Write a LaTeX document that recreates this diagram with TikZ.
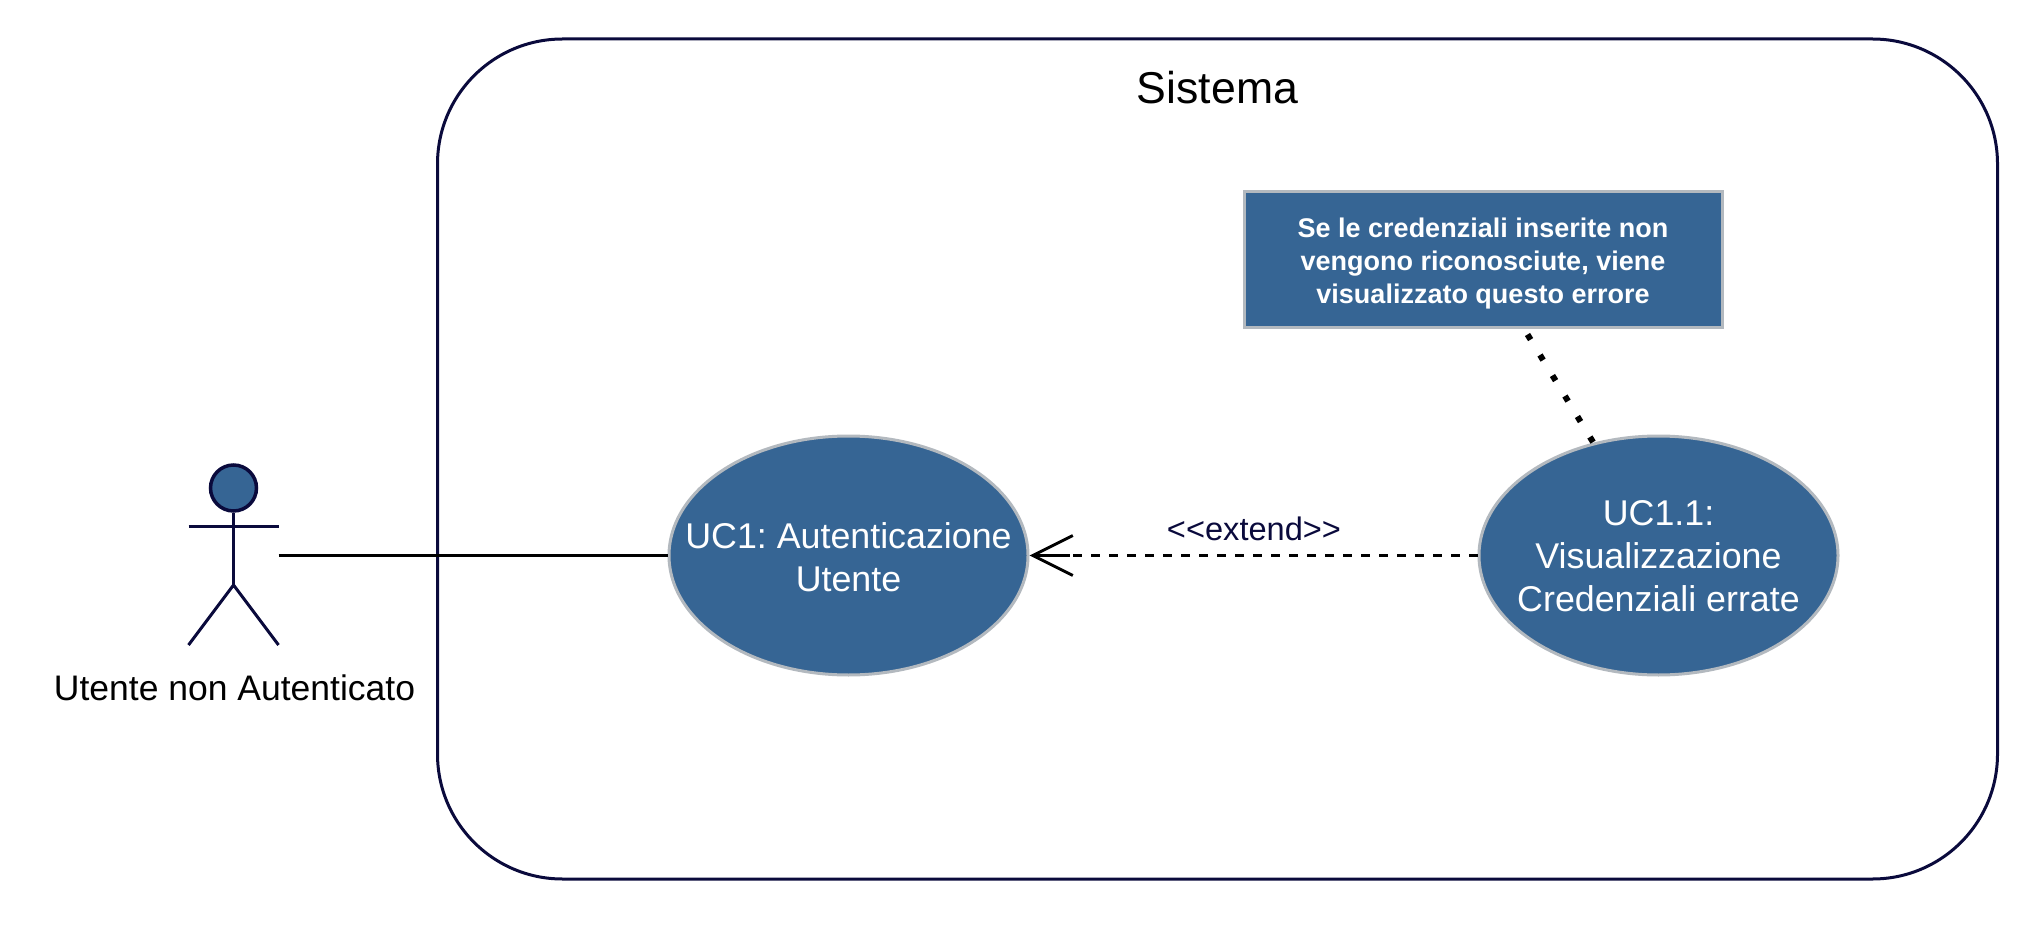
\documentclass[tikz,border=0pt]{standalone}
\usepackage{fontspec}
\setmainfont{Liberation Sans}
\frenchspacing
\usetikzlibrary{shapes.geometric,arrows.meta,calc}
\definecolor{ucblue}{HTML}{366594}
\definecolor{ucgray}{HTML}{B3B9BF}
\definecolor{ucnavy}{HTML}{0A0A3C}
\tikzset{
  usecase/.style={ellipse,draw=ucgray,line width=3pt,fill=ucblue,minimum width=359pt,minimum height=239pt,inner sep=0pt},
  uctext/.style={inner sep=0pt,text=white,align=center,font=\fontsize{35.8}{43}\selectfont},
  notebox/.style={rectangle,draw=ucgray,line width=3pt,fill=ucblue,text=white,minimum width=478pt,minimum height=136pt,inner sep=0pt},
  notetext/.style={inner sep=0pt,text=white,align=center,font=\fontsize{27}{33}\selectfont\bfseries},
  actorline/.style={draw=ucnavy,line width=3pt},
  assoc/.style={draw=black,line width=3pt},
  extendline/.style={draw=black,line width=3pt,dash pattern=on 9pt off 9pt},
  noteline/.style={draw=black,line width=6pt,dash pattern=on 6pt off 18pt},
  plain/.style={inner sep=0pt,text=black}
}
\begin{document}
\begin{tikzpicture}[x=1pt,y=-1pt]
\useasboundingbox (0,0) rectangle (2035,925);
\node[draw=ucnavy,line width=3pt,rectangle,rounded corners=125pt,minimum width=1560pt,minimum height=840pt,inner sep=0pt] (sys) at (1217.5,459) {};
\node[plain,font=\fontsize{44.6}{52}\selectfont] (systitle) at (1217.5,88) {Sistema};
% actor
\node[ellipse,draw=ucnavy,line width=3.5pt,fill=ucblue,minimum width=46pt,minimum height=46pt,inner sep=0pt] (head) at (233.5,488) {};
\coordinate (hip) at (233.5,585);
\coordinate (armL) at (188.5,526);
\coordinate (armR) at (278.5,526);
\coordinate (legL) at (188.5,645);
\coordinate (legR) at (278.5,645);
\coordinate (hand) at (278.5,555.5);
\draw[actorline] (head.south) -- (hip);
\draw[actorline] (armL) -- (armR);
\draw[actorline] (legL) -- (hip) -- (legR);
\node[plain,font=\fontsize{35.5}{43}\selectfont] (actorlabel) at (234.5,687.5) {Utente non Autenticato};
% use cases
\node[usecase] (uc1) at (848.5,555.5) {};
\node[uctext] (uc1text) at (848.5,557) {UC1: Autenticazione\\Utente};
\node[usecase] (uc11) at (1658.5,555.5) {};
\node[uctext] (uc11text) at (1658.5,556.5) {UC1.1:\\Visualizzazione\\Credenziali errate};
\node[notebox] (note) at (1483,260) {};
\node[notetext] (notetext) at (1483,263.5) {Se le credenziali inserite non\\vengono riconosciute, viene\\visualizzato questo errore};
% connectors
\draw[assoc] (hand) -- (uc1.west);
\draw[extendline] (uc11.west) -- (uc1.east);
\coordinate (barbtail) at ($(uc1.east)+(40,0)$);
\draw[draw=black,line width=3pt,-{Straight Barb[length=40pt,width=40pt,line width=3pt]}] (barbtail) -- (uc1.east);
\coordinate (noteanchor) at (1527.5,334.5);
\draw[noteline] (noteanchor) -- (uc11.120);
\node[plain,text=ucnavy,font=\fontsize{32.6}{40}\selectfont] (extlabel) at (1254,529) {<{}<extend>{}>};
\end{tikzpicture}
\end{document}
